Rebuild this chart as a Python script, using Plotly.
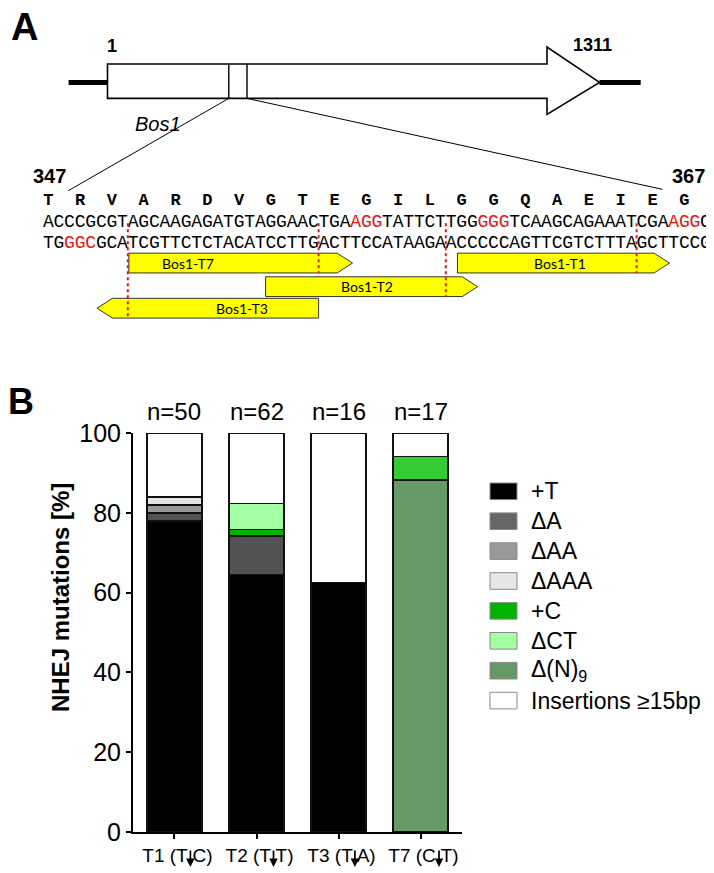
import plotly.graph_objects as go

# page body adds an 8px margin, so the figure is drawn in the remaining area
OX, OY = 8, 8
FW, FH = 706, 865

# ---- panel B data ----
categories = ["T1", "T2", "T3", "T7"]
tick_labels = ["T1 (T C)", "T2 (T T)", "T3 (T A)", "T7 (C T)"]
n_counts = [50, 62, 16, 17]

plus_T = [78, 64.5, 62.5, 0]
del_A = [2, 9.7, 0, 0]
del_AA = [2, 0, 0, 0]
del_AAA = [2, 0, 0, 0]
plus_C = [0, 1.6, 0, 5.9]
del_CT = [0, 6.5, 0, 0]
del_N9 = [0, 0, 0, 88.2]
insertions = [16, 17.7, 37.5, 5.9]

# ---- panel A data ----
top_strand = "ACCCGCGTAGCAAGAGATGTAGGAACTGAAGGTATTCTTGGGGGTCAAGCAGAAATCGAAGGC"
bottom_strand = "TGGGCGCATCGTTCTCTACATCCTTGACTTCCATAAGAACCCCCAGTTCGTCTTTAGCTTCCG"
amino_acids = "TRVARDVGTEGILGGQAEIEG"
pam_top = [29, 41, 59]
pam_bottom = [2]

guide_names = ["Bos1-T7", "Bos1-T2", "Bos1-T1", "Bos1-T3"]
guide_start = [7.6, 20.5, 38.6, 4.6]
guide_end = [28.7, 40.5, 58.6, 25.5]
guide_strand = ["+", "+", "+", "-"]
guide_row = [2.9, 4, 2.9, 5]
guide_cut = [25.5, 37.5, 55.5, 7.5]
guide_label_x = [13.2, 30.1, 48.3, 18.3]


def px(x):
    return (x - OX) / FW


def py(y):
    return 1 - (y - OY) / FH


FONT = "Arial, Liberation Sans, sans-serif"
MONO = "Courier New, Liberation Mono, monospace"
RED = "#e81414"

fig = go.Figure()

# stacked bars (stack order bottom -> top)
stack = [
    ("+T", plus_T, "#000000"),
    ("ΔA", del_A, "#525252"),
    ("ΔAA", del_AA, "#999999"),
    ("ΔAAA", del_AAA, "#e3e3e3"),
    ("Δ(N)9", del_N9, "#669966"),
    ("+C", plus_C, ["#00b400", "#00b400", "#00b400", "#33cc33"]),
    ("ΔCT", del_CT, "#a3ffa3"),
    ("Insertions", insertions, "#ffffff"),
]
for name, vals, col in stack:
    fig.add_trace(go.Bar(
        x=categories, y=[v if v > 0 else None for v in vals], name=name,
        marker=dict(color=col, line=dict(color="#111111", width=1.6)),
        width=0.67, showlegend=False, xaxis="x", yaxis="y",
    ))

for c, n in zip(categories, n_counts):
    fig.add_annotation(x=c, y=100, xref="x", yref="y", text=f"n={n}",
                       showarrow=False, xanchor="center", yanchor="bottom", yshift=6,
                       font=dict(family=FONT, size=24, color="black"))

# cut-site arrows under the tick labels
arrow_dx = [15.9, 17, 16.4, 18.5]
for c, dx in zip(categories, arrow_dx):
    fig.add_annotation(x=c, y=py(867), xref="x", yref="paper", text="", xshift=dx,
                       showarrow=True, ax=0, ay=-18, arrowhead=2, arrowsize=1.0,
                       arrowwidth=1.7, arrowcolor="black")

# custom legend with wide swatches
legend_items = [
    ("+T", "#000000"), ("ΔA", "#666666"), ("ΔAA", "#999999"), ("ΔAAA", "#e6e6e6"),
    ("+C", "#00b400"), ("ΔCT", "#a3ffa3"), ("Δ(N)<sub>9</sub>", "#669966"),
    ("Insertions ≥15bp", "#ffffff"),
]
for i, (label, col) in enumerate(legend_items):
    yc = 491.3 + 29.9 * i
    fig.add_shape(type="rect", xref="paper", yref="paper",
                  x0=px(490), x1=px(517), y0=py(yc - 8.3), y1=py(yc + 8.3),
                  fillcolor=col, line=dict(color="#8a8a8a", width=1))
    fig.add_annotation(x=px(529), y=py(yc), xref="paper", yref="paper", text=label,
                       showarrow=False, xanchor="left", yanchor="middle",
                       font=dict(family=FONT, size=23, color="black"))

fig.add_annotation(x=px(60), y=py(598), xref="paper", yref="paper",
                   text="<b>NHEJ mutations [%]</b>", textangle=-90, showarrow=False,
                   xanchor="center", yanchor="middle",
                   font=dict(family=FONT, size=24, color="black"))

# ---- panel A: sequence ----
aa_x = [3 * k for k in range(len(amino_acids))]
fig.add_trace(go.Scatter(
    x=aa_x, y=[0] * len(aa_x), text=list(amino_acids), mode="text",
    textfont=dict(family=MONO, size=17, color="black", weight="bold"),
    xaxis="x2", yaxis="y2", showlegend=False, hoverinfo="skip",
))


def strand_colors(seq, pams):
    cols = ["black"] * len(seq)
    for p in pams:
        for j in range(p, p + 3):
            cols[j] = RED
    return cols


for row, seq, pams in [(1, top_strand, pam_top), (2, bottom_strand, pam_bottom)]:
    fig.add_trace(go.Scatter(
        x=list(range(len(seq))), y=[row] * len(seq), text=list(seq), mode="text",
        textfont=dict(family=MONO, size=18, color=strand_colors(seq, pams)),
        xaxis="x2", yaxis="y2", showlegend=False, hoverinfo="skip", cliponaxis=False,
    ))

head = 1.45
hh = 0.46
for name, s, e, strand, r, lx in zip(guide_names, guide_start, guide_end,
                                       guide_strand, guide_row, guide_label_x):
    if strand == "+":
        path = (f"M{s},{r - hh} L{e - head},{r - hh} L{e},{r} L{e - head},{r + hh} "
                f"L{s},{r + hh} Z")
    else:
        path = (f"M{s},{r} L{s + head},{r - hh} L{e},{r - hh} L{e},{r + hh} "
                f"L{s + head},{r + hh} Z")
    fig.add_shape(type="path", path=path, xref="x2", yref="y2",
                  fillcolor="#ffff00", line=dict(color="#333333", width=1))
    fig.add_annotation(x=lx, y=r, xref="x2", yref="y2", text=name, showarrow=False,
                       xanchor="center", yanchor="middle",
                       font=dict(family="Lato, Open Sans, sans-serif", size=14, color="black"))

for c, r in zip(guide_cut, guide_row):
    fig.add_shape(type="line", xref="x2", yref="y2", x0=c, x1=c, y0=1.05, y1=r + hh,
                  line=dict(color=RED, width=2, dash="dot"))

# ---- panel A: gene diagram ----
line_k = dict(color="black", width=5)
fig.add_shape(type="line", xref="paper", yref="paper", x0=px(68.6), x1=px(107.5),
              y0=py(82.4), y1=py(82.4), line=line_k)
fig.add_shape(type="line", xref="paper", yref="paper", x0=px(599.5), x1=px(640.7),
              y0=py(82.4), y1=py(82.4), line=line_k)
gene_path = (f"M{px(107.5)},{py(64)} L{px(547)},{py(64)} L{px(547)},{py(47)} "
             f"L{px(599.5)},{py(82.4)} L{px(547)},{py(114.4)} L{px(547)},{py(98.4)} "
             f"L{px(107.5)},{py(98.4)} Z")
fig.add_shape(type="path", path=gene_path, xref="paper", yref="paper",
              fillcolor="white", line=dict(color="black", width=1.6))
for xx in (228.8, 247):
    fig.add_shape(type="line", xref="paper", yref="paper", x0=px(xx), x1=px(xx),
                  y0=py(64), y1=py(98.4), line=dict(color="black", width=1.4))
fig.add_shape(type="line", xref="paper", yref="paper", x0=px(228.8), y0=py(98.4),
              x1=px(68.3), y1=py(190.7), line=dict(color="black", width=1))
fig.add_shape(type="line", xref="paper", yref="paper", x0=px(247), y0=py(98.4),
              x1=px(662.3), y1=py(189.3), line=dict(color="black", width=1))

texts = [
    ("<b>A</b>", 24, 27, 38, "normal"),
    ("<b>B</b>", 21, 401, 36, "normal"),
    ("<b>1</b>", 112, 46, 18, "normal"),
    ("<b>1311</b>", 592, 45, 18, "normal"),
    ("Bos1", 158, 124, 20, "italic"),
    ("<b>347</b>", 49, 176, 20, "normal"),
    ("<b>367</b>", 688.5, 176, 20, "normal"),
]
for t, x, y, s, st in texts:
    fig.add_annotation(x=px(x), y=py(y), xref="paper", yref="paper", text=t,
                       showarrow=False, xanchor="center", yanchor="middle",
                       font=dict(family=FONT, size=s, color="black", style=st))

x2_lo = (OX - 48.3) / 10.6
x2_hi = (OX + FW - 48.3) / 10.6

fig.update_layout(
    width=FW, height=FH, margin=dict(l=0, r=0, t=0, b=0, autoexpand=False),
    paper_bgcolor="white", plot_bgcolor="white", barmode="stack", showlegend=False,
    xaxis=dict(domain=[px(133), px(462)], range=[-0.506, 3.506], tickvals=categories,
               ticktext=tick_labels, showline=True, linewidth=2, linecolor="black",
               ticks="outside", ticklen=5, tickwidth=2, tickcolor="black",
               showgrid=False, zeroline=False, automargin=False, ticklabelshift=3,
               tickfont=dict(family=FONT, size=19, color="black")),
    yaxis=dict(domain=[py(832), py(433)], range=[0, 100], tickvals=[0, 20, 40, 60, 80, 100],
               showline=True, linewidth=2, linecolor="black", ticks="outside", ticklen=5,
               tickwidth=2, tickcolor="black", showgrid=False, zeroline=False,
               automargin=False, tickfont=dict(family=FONT, size=25, color="black")),
    xaxis2=dict(domain=[0, 1], range=[x2_lo, x2_hi], visible=False, anchor="y2"),
    yaxis2=dict(domain=[py(330), py(150)], range=[6.014, -2.358], visible=False, anchor="x2"),
)

fig.write_html("out.html")
